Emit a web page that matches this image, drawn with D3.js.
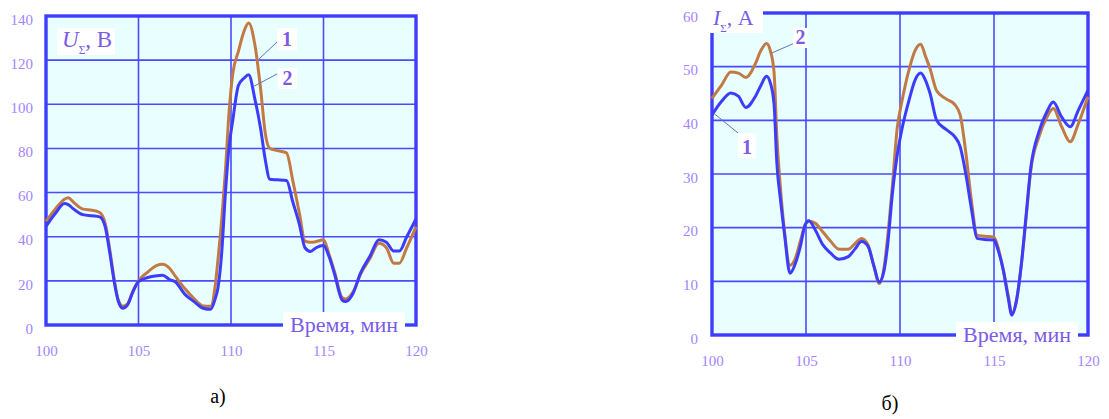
<!DOCTYPE html>
<html>
<head>
<meta charset="utf-8">
<script src="https://cdn.jsdelivr.net/npm/d3@7"></script>
<style>
  html, body { margin: 0; padding: 0; background: #ffffff; }
  svg { display: block; }
  text { font-family: "Liberation Serif", "DejaVu Serif", serif; }
</style>
</head>
<body>
<svg id="chart" width="1109" height="419"></svg>
<script>
// ---- Panel (а): total voltage U, two series ----
const timeU = [100, 100.5, 101, 101.2, 101.5, 102, 102.5, 102.9, 103.2, 103.45, 103.7, 103.9,
  104.15, 104.4, 104.7, 105, 105.5, 106, 106.3, 106.7, 107, 107.5, 108, 108.5, 108.9, 109.15,
  109.3, 109.5, 109.7, 109.9, 110.1, 110.4, 110.7, 110.95, 111.3, 111.6, 111.85, 112.1, 112.5,
  113, 113.35, 113.7, 114, 114.3, 114.6, 115, 115.3, 115.6, 116, 116.2, 116.6, 117, 117.5,
  118, 118.4, 118.8, 119.1, 119.5, 120];
const voltage1 = [47, 52.5, 57, 57.6, 55.5, 52.5, 52, 51, 46, 34, 20, 11.5,
  8.5, 9.5, 15.5, 20, 24, 27, 27.5, 25.5, 22, 16.5, 12, 8.6, 8.5, 18,
  30, 48, 70, 97, 114, 124, 133, 136.8, 126.5, 107, 87, 80, 79,
  78, 65, 50.5, 38, 37.5, 37.8, 38.6, 32, 24, 12.5, 11.8, 15, 23, 30,
  37, 35, 28, 28, 35, 44.5];
const voltage2 = [44.7, 50.5, 55, 54.5, 52.5, 50, 49.5, 49, 44.5, 32.6, 19, 11,
  7.6, 9, 15, 19.7, 21.5, 22.3, 22.5, 20.5, 19.5, 14, 10.6, 7.6, 7.1, 12,
  17, 33, 60, 81, 93, 108.5, 111.8, 113.4, 102, 89, 75, 66, 65.8,
  65.5, 55.5, 45.5, 35, 33.3, 35, 36, 31, 23, 11.4, 10.6, 14.4, 23.5, 31,
  38.6, 37.5, 33.5, 33.5, 40, 48];

// ---- Panel (б): total current I, two series ----
const timeI = [100, 100.5, 101, 101.4, 101.8, 102.3, 102.6, 102.9, 103.1, 103.3, 103.45, 103.65,
  103.85, 104.15, 104.4, 104.7, 104.95, 105.15, 105.5, 105.9, 106.3, 106.75, 107.25, 107.6,
  107.95, 108.3, 108.6, 108.9, 109.15, 109.35, 109.6, 109.85, 110.1, 110.5, 110.8, 111.1,
  111.35, 111.6, 111.95, 112.45, 112.9, 113.2, 113.5, 113.8, 114.1, 114.5, 115, 115.2, 115.5,
  115.75, 115.95, 116.2, 116.45, 116.7, 116.95, 117.4, 117.8, 118.15, 118.6, 119.05, 119.5, 120];
const current1 = [41, 43.5, 45.1, 44.5, 42.4, 44.4, 46.5, 48.2, 47, 43, 32, 25,
  19, 11.5, 13, 16.5, 20.5, 21.3, 19.5, 16.8, 15.3, 14.1, 14.6, 16,
  17.4, 16.5, 13, 9.9, 12, 17, 26.5, 33.5, 38.3, 44, 47.5, 48.8,
  47.5, 45, 40, 38.3, 37, 35.1, 30, 23.5, 18, 17.8, 17.7, 16, 12,
  7, 3.7, 6.5, 13, 22, 31, 38, 41.5, 43.4, 40.6, 38.8, 42, 45.6];
const current2 = [44.1, 46.5, 49, 48.8, 48, 50.5, 53, 54.3, 53, 49, 37, 27,
  19.5, 13, 14, 17.5, 20.5, 21.2, 20.8, 19.2, 17.5, 16, 16, 17,
  18, 16.8, 13, 9.6, 12.5, 18.5, 28, 38.5, 43.5, 49.7, 53, 54.2,
  52, 49.6, 45.5, 44, 43, 41, 34, 25, 18.6, 18.4, 18.2, 16.5, 12,
  7.5, 4, 6.5, 13, 21.5, 30.5, 37, 40.5, 42.2, 38.8, 36, 39.5, 44.4];

// ---- Tick labels ----
const timeTicks = [100, 105, 110, 115, 120];
const voltageTicks = [0, 20, 40, 60, 80, 100, 120, 140];
const currentTicks = [0, 10, 20, 30, 40, 50, 60];

const COL = {
  frame: "#3d3dff",
  grid: "#4a4aff",
  plotBg: "#e9fefe",
  orange: "#c27a45",
  blue: "#3c3cff",
  tick: "#a384ff",
  label: "#7a5ce6",
  leader: "#5a78c0"
};

const svg = d3.select("#chart");

function drawPanel(p) {
  const x = d3.scaleLinear().domain([100, 120]).range(p.xRange);
  const y = d3.scaleLinear().domain(p.yDomain).range(p.yRange);
  const g = svg.append("g");

  const [x0, x1] = p.xRange;
  const [yb, yt] = p.yRange;

  // plot background
  g.append("rect").attr("x", x0).attr("y", yt).attr("width", x1 - x0).attr("height", yb - yt)
    .attr("fill", COL.plotBg);

  // grid
  g.append("g").selectAll("line").data(timeTicks.slice(1, -1)).join("line")
    .attr("x1", d => x(d)).attr("x2", d => x(d)).attr("y1", yt).attr("y2", yb)
    .attr("stroke", COL.grid).attr("stroke-width", 1.6);
  g.append("g").selectAll("line").data(p.yTicks.slice(1, -1)).join("line")
    .attr("x1", x0).attr("x2", x1).attr("y1", d => y(d)).attr("y2", d => y(d))
    .attr("stroke", COL.grid).attr("stroke-width", 1.6);

  // frame
  g.append("rect").attr("x", x0).attr("y", yt).attr("width", x1 - x0).attr("height", yb - yt)
    .attr("fill", "none").attr("stroke", COL.frame).attr("stroke-width", 3.4);

  // axes (labels only)
  const xAxis = d3.axisBottom(x).tickValues(timeTicks).tickSize(0).tickPadding(p.xPad)
    .tickFormat(d3.format("d"));
  const ax = g.append("g").attr("transform", `translate(0,${yb})`).call(xAxis);
  const yAxis = d3.axisLeft(y).tickValues(p.yTicks).tickSize(0).tickPadding(p.yPad)
    .tickFormat(d3.format("d"));
  const ay = g.append("g").attr("transform", `translate(${x0},0)`).call(yAxis);
  [ax, ay].forEach(a => {
    a.attr("font-family", null);
    a.select(".domain").remove();
    a.selectAll("text").attr("fill", COL.tick).style("font-size", "15px")
      .style("font-family", "'Liberation Serif', serif");
  });
  ay.selectAll("text").attr("dy", "0.55em");

  // curves
  const line = d3.line().x(d => x(d[0])).y(d => y(d[1])).curve(d3.curveMonotoneX);
  const s1 = p.time.map((t, i) => [t, p.orange[i]]);
  const s2 = p.time.map((t, i) => [t, p.blue[i]]);
  g.append("path").datum(s1).attr("d", line).attr("fill", "none")
    .attr("stroke", COL.orange).attr("stroke-width", 3).attr("stroke-linejoin", "round");
  g.append("path").datum(s2).attr("d", line).attr("fill", "none")
    .attr("stroke", COL.blue).attr("stroke-width", 3).attr("stroke-linejoin", "round");

  // axis title on the bottom frame
  const tb = p.timeBox;
  g.append("rect").attr("x", tb[0]).attr("y", tb[1]).attr("width", tb[2]).attr("height", tb[3])
    .attr("fill", "#ffffff");
  g.append("text").attr("x", tb[0] + tb[2] / 2).attr("y", tb[1] + tb[3] - 5)
    .attr("text-anchor", "middle").attr("fill", COL.label).style("font-size", "22px")
    .text("Время, мин");

  // quantity label
  const qb = p.qBox;
  g.append("rect").attr("x", qb[0]).attr("y", qb[1]).attr("width", qb[2]).attr("height", qb[3])
    .attr("fill", "#ffffff");
  const qt = g.append("text").attr("x", p.qText[0]).attr("y", p.qText[1])
    .attr("fill", COL.label).style("font-size", p.qSize + "px");
  qt.append("tspan").style("font-style", "italic").text(p.qSym);
  qt.append("tspan").attr("dy", p.qSize * 0.3).style("font-size", (p.qSize * 0.5) + "px").text("Σ");
  qt.append("tspan").attr("dy", -p.qSize * 0.3).text(p.qUnit);

  // curve numbers with leader lines
  p.marks.forEach(m => {
    const tx = x(m.t), ty = y(m.v);
    g.append("line").attr("x1", tx).attr("y1", ty).attr("x2", m.lx).attr("y2", m.ly)
      .attr("stroke", COL.leader).attr("stroke-width", 1);
    g.append("rect").attr("x", m.bx).attr("y", m.by).attr("width", m.bw).attr("height", m.bh)
      .attr("fill", "#ffffff");
    g.append("text").attr("x", m.bx + m.bw / 2).attr("y", m.by + m.bh - 4)
      .attr("text-anchor", "middle").attr("fill", COL.label)
      .style("font-size", "20px").style("font-weight", "bold").text(m.n);
  });

  // caption
  svg.append("text").attr("x", p.caption[0]).attr("y", p.caption[1]).attr("text-anchor", "middle")
    .attr("fill", "#000000").style("font-size", "20px").text(p.caption[2]);
}

drawPanel({
  xRange: [46, 416], yRange: [325, 16], yDomain: [0, 140],
  yTicks: voltageTicks, xPad: 20, yPad: 13,
  time: timeU, orange: voltage1, blue: voltage2,
  timeBox: [283, 312, 122, 25],
  qBox: [57, 28, 58, 27], qText: [62, 47], qSize: 23, qSym: "U", qUnit: ", В",
  marks: [
    { n: "1", t: 111.45, v: 120, lx: 277, ly: 42, bx: 277, by: 28, bw: 20, bh: 22 },
    { n: "2", t: 111.2, v: 108, lx: 277, ly: 74, bx: 278, by: 68, bw: 19, bh: 21 }
  ],
  caption: [218, 403, "а)"]
});

drawPanel({
  xRange: [712, 1088], yRange: [335, 13], yDomain: [0, 60],
  yTicks: currentTicks, xPad: 20, yPad: 14,
  time: timeI, orange: current2, blue: current1,
  timeBox: [956, 322, 122, 25],
  qBox: [708, 0, 55, 33], qText: [713, 25], qSize: 22, qSym: "I", qUnit: ", А",
  marks: [
    { n: "2", t: 103.15, v: 52.5, lx: 797, ly: 42, bx: 793, by: 28, bw: 15, bh: 20 },
    { n: "1", t: 100.1, v: 41.3, lx: 738, ly: 133, bx: 738, by: 133, bw: 18, bh: 25 }
  ],
  caption: [890, 410, "б)"]
});
</script>
</body>
</html>
